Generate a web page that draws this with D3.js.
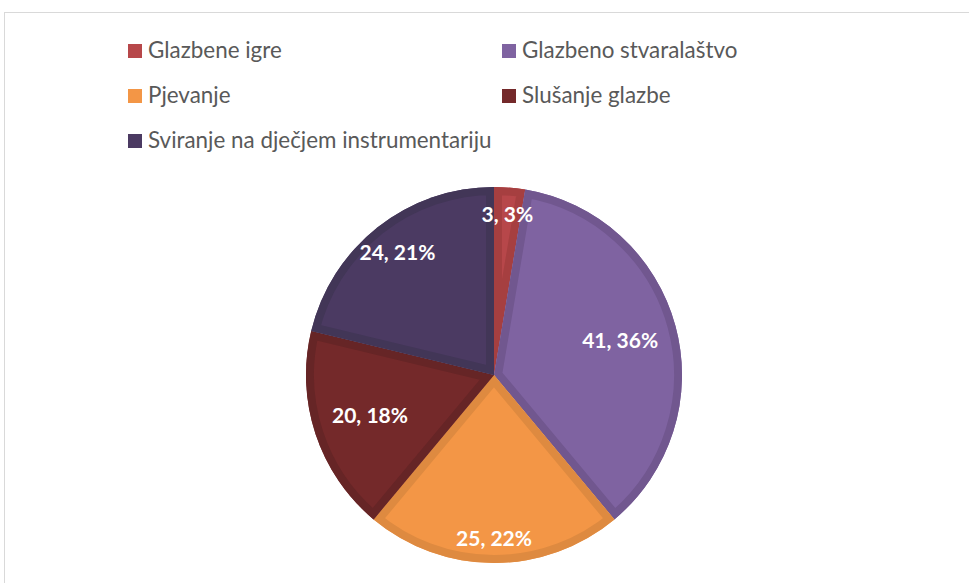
<!DOCTYPE html>
<html><head><meta charset="utf-8">
<script src="https://cdn.jsdelivr.net/npm/d3@7"></script>
<style>html,body{margin:0;padding:0;background:#fff;overflow:hidden}</style>
</head><body>
<svg id="chart" width="969" height="583"></svg>
<script>
const categories = ["Glazbene igre", "Glazbeno stvaralaštvo", "Pjevanje", "Slušanje glazbe", "Sviranje na dječjem instrumentariju"];
const values = [3, 41, 25, 20, 24];
const percentLabels = ["3%", "36%", "22%", "18%", "21%"];
const fillColors = ["#b7474a", "#7f63a1", "#f39646", "#74292a", "#4b3a62"];
const edgeColors = ["#a63f40", "#71578f", "#de8a40", "#662526", "#423657"];
// layout (not data): label distance as fraction of radius (Excel best-fit)
const labelRadiusFactor = [0.855, 0.695, 0.87, 0.695, 0.83];

const svg = d3.select("#chart");
svg.append("rect").attr("x", 4.5).attr("y", 12.5).attr("width", 1200).attr("height", 1200)
  .attr("fill", "#fff").attr("stroke", "#d9d9d9").attr("stroke-width", 1);

// legend
const legendPos = [[128, 44], [502, 44], [128, 89], [502, 89], [128, 134]];
const legend = svg.append("g");
categories.forEach((c, i) => {
  const g = legend.append("g").attr("transform", `translate(${legendPos[i][0]},${legendPos[i][1]})`);
  g.append("rect").attr("width", 14).attr("height", 14).attr("fill", fillColors[i]);
  g.append("text").attr("x", 20).attr("y", 14).text(c)
    .attr("font-family", "Lato, 'Open Sans', sans-serif").attr("font-size", 22.4).attr("fill", "#595959");
});

const cx = 494, cy = 375, r = 188;
const pie = d3.pie().sort(null).value(d => d)(values);
const arc = d3.arc().innerRadius(0).outerRadius(r);
const g = svg.append("g").attr("transform", `translate(${cx},${cy})`);
const defs = svg.append("defs");
pie.forEach((p, i) => {
  defs.append("clipPath").attr("id", "clip" + i).append("path").attr("d", arc(p));
  g.append("path").attr("d", arc(p)).attr("fill", fillColors[i]);
  g.append("path").attr("d", arc(p)).attr("fill", "none").attr("stroke", edgeColors[i])
    .attr("stroke-width", 16).attr("stroke-linejoin", "miter").attr("clip-path", `url(#clip${i})`);
});
pie.forEach((p, i) => {
  const la = d3.arc().innerRadius(r * labelRadiusFactor[i]).outerRadius(r * labelRadiusFactor[i]);
  const [x, y] = la.centroid(p);
  g.append("text").attr("x", x).attr("y", y).attr("dy", "0.35em").attr("text-anchor", "middle")
    .attr("font-family", "Lato, 'Open Sans', sans-serif").attr("font-weight", "bold").attr("font-size", 21)
    .attr("fill", "#fff").text(`${values[i]}, ${percentLabels[i]}`);
});
</script>
</body></html>
